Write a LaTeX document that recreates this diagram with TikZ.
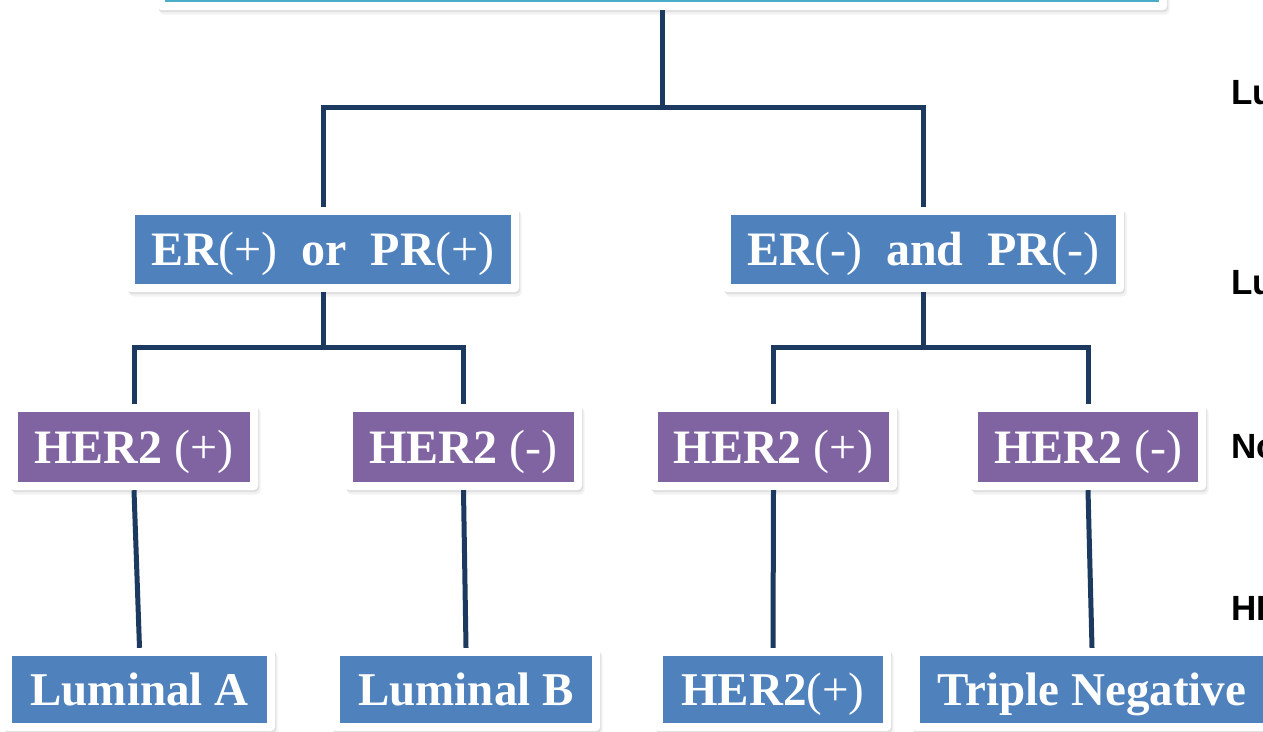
\documentclass[tikz,border=0pt]{standalone}
\usepackage{fontspec}
\setmainfont{Liberation Serif}
\newfontfamily\sidefont{Liberation Sans}
\usetikzlibrary{shadows}
\definecolor{boxblue}{HTML}{4F81BD}
\definecolor{boxpurple}{HTML}{8064A2}
\definecolor{boxteal}{HTML}{4BACC6}
\definecolor{linenavy}{HTML}{1C3A5F}
\newcommand{\rg}[1]{\textmd{#1}}
\tikzset{
  framebox/.style={fill=white, rounded corners=4pt, inner sep=0pt, text=white,
    drop shadow={opacity=0.16,shadow xshift=1pt,shadow yshift=-2pt},
    drop shadow={opacity=0.10,shadow xshift=2.5pt,shadow yshift=-4.5pt},
    path picture={\fill[#1, sharp corners] ([shift={(8pt,8pt)}]path picture bounding box.south west) rectangle ([shift={(-8pt,-8pt)}]path picture bounding box.north east);}},
  lvlone/.style={framebox=boxblue, minimum height=85pt, text height=32pt, text depth=0pt, font=\fontsize{48}{56}\selectfont\bfseries},
  lvltwo/.style={framebox=boxpurple, minimum height=86pt, text height=32pt, text depth=0pt, font=\fontsize{48}{56}\selectfont\bfseries},
  lvlthree/.style={framebox=boxblue, minimum height=83pt, text height=31pt, text depth=0pt, font=\fontsize{47}{55}\selectfont\bfseries},
  conn/.style={draw=linenavy, line width=5pt},
  sidelabel/.style={anchor=west, inner sep=0pt, font=\sidefont\fontsize{35}{40}\selectfont\bfseries, text=black}
}
\begin{document}
\begin{tikzpicture}[x=1pt,y=-1pt]
\path[use as bounding box, clip] (0,0) rectangle (1263,731);
\fill[white] (0,0) rectangle (1263,731);

% top box (cut off)
\node[framebox=boxteal, minimum width=1010pt, minimum height=90pt] (top) at (662,-35) {};

% level 1
\node[lvlone, minimum width=392pt] (l1a) at (323,249.5) {ER\rg{(+)}~~or~~PR\rg{(+)}};
\node[lvlone, minimum width=401pt] (l1b) at (923.5,249.5) {ER\rg{(-)}~~and~~PR\rg{(-)}};

% level 2
\node[lvltwo, minimum width=248pt] (l2a) at (134,447) {HER2 \rg{(+)}};
\node[lvltwo, minimum width=237pt] (l2b) at (463.5,447) {HER2 \rg{(-)}};
\node[lvltwo, minimum width=247pt] (l2c) at (773.5,447) {HER2 \rg{(+)}};
\node[lvltwo, minimum width=236pt] (l2d) at (1088,447) {HER2 \rg{(-)}};

% level 3
\node[lvlthree, minimum width=271pt] (l3a) at (139.5,689.5) {Luminal A};
\node[lvlthree, minimum width=268pt] (l3b) at (466,689.5) {Luminal B};
\node[lvlthree, minimum width=236pt] (l3c) at (773,689.5) {HER2\rg{(+)}};
\node[lvlthree, minimum width=360pt] (l3d) at (1092,689.5) {Triple Negative};

% junction levels
\coordinate (j0) at (660,107);
\coordinate (j1) at (0,347);

% connectors
\draw[conn] (top.south) -- (top.south |- j0);
\draw[conn] (l1a.north) |- (j0) -| (l1b.north);
\draw[conn] (l1a.south) -- (l1a.south |- j1);
\draw[conn] (l2a.north) |- (l1a.south |- j1) -| (l2b.north);
\draw[conn] (l1b.south) -- (l1b.south |- j1);
\draw[conn] (l2c.north) |- (l1b.south |- j1) -| (l2d.north);
\draw[conn] (l2a.south) -- (l3a.north);
\draw[conn] (l2b.south) -- (l3b.north);
\draw[conn] (l2c.south) -- (l3c.north);
\draw[conn] (l2d.south) -- (l3d.north);

% partial side labels (cut off at the right edge, as in the reference)
\node[sidelabel] (s1) at (1231,93) {Lu};
\node[sidelabel] (s2) at (1231,283) {Lu};
\node[sidelabel] (s3) at (1231,447) {No};
\node[sidelabel] (s4) at (1231,608) {HE};
\end{tikzpicture}
\end{document}
